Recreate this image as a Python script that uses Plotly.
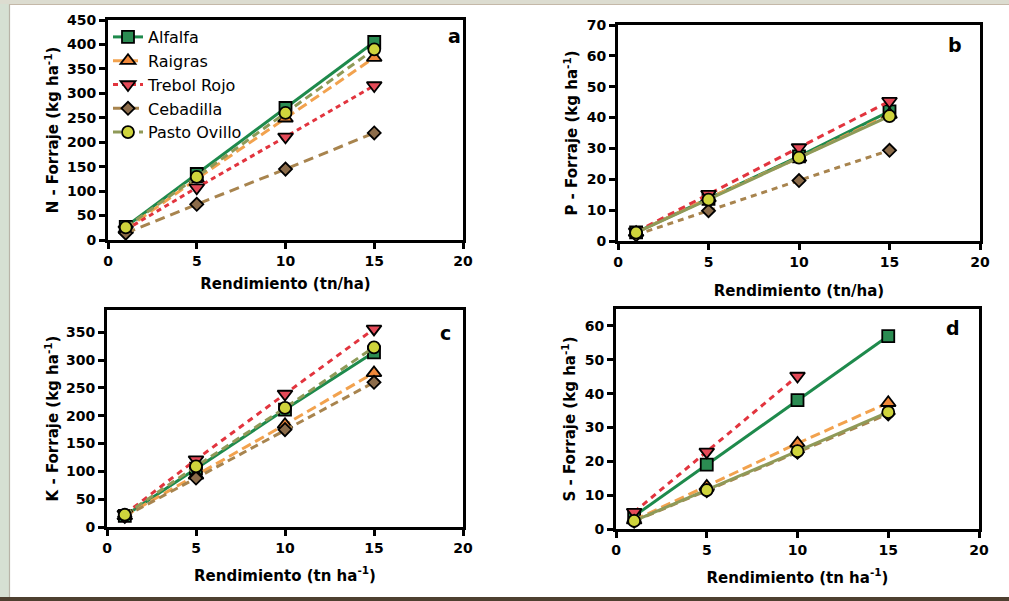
import plotly.graph_objects as go

# ---------------- data ----------------
x_vals = [1, 5, 10, 15]
series_names = ["Alfalfa", "Raigras", "Trebol Rojo", "Cebadilla", "Pasto Ovillo"]

N_alfalfa = [27, 135, 270, 405]
N_raigras = [22, 125, 249, 373]
N_trebol = [21, 107, 211, 316]
N_cebadilla = [14, 73, 145, 219]
N_pasto = [26, 129, 260, 390]

P_alfalfa = [2.8, 13.7, 27.4, 42.0]
P_raigras = [2.7, 13.9, 27.0, 41.0]
P_trebol = [3.0, 15.2, 30.3, 45.3]
P_cebadilla = [2.0, 9.8, 19.6, 29.4]
P_pasto = [2.7, 13.4, 27.0, 40.5]

K_alfalfa = [20, 105, 211, 314]
K_raigras = [20, 93, 184, 277]
K_trebol = [23, 121, 239, 356]
K_cebadilla = [19, 88, 175, 260]
K_pasto = [22, 109, 214, 323]

S_alfalfa = [3.8, 19.0, 38.1, 57.0]
S_raigras = [2.6, 12.6, 25.3, 37.3]
S_trebol = [5.0, 22.8, 45.2, None]
S_cebadilla = [2.3, 11.3, 22.7, 34.0]
S_pasto = [2.4, 11.5, 23.0, 34.5]

x_ticks = [0, 5, 10, 15, 20]
panel_letters = ["a", "b", "c", "d"]

# ---------------- styles ----------------
W, H = 1009, 601


def px_x(v):
    return v / W


def px_y(v):
    return 1 - v / H


line_colors = ["#1e8a4c", "#f2a24e", "#e2343e", "#a8844e", "#8f9a58"]
marker_fills = ["#2b8c52", "#f0883a", "#e44a58", "#8c6c4a", "#cfd43c"]
symbols = ["square", "triangle-up", "triangle-down", "diamond", "circle"]
msizes = [12, 13, 13, 10, 12]

panels = [
    dict(data=[N_alfalfa, N_raigras, N_trebol, N_cebadilla, N_pasto],
         dashes=["solid", "10px,5px", "5px,4px", "10px,6px", "8px,5px"],
         ytitle="N - Forraje (kg ha<sup>-1</sup>)", xtitle="Rendimiento (tn/ha)",
         yrange=[0, 450], ydtick=50, xstand=11, ystand=5,
         xpx=(108, 463), ypx=(20, 240), letterpx=(454, 36)),
    dict(data=[P_alfalfa, P_raigras, P_trebol, P_cebadilla, P_pasto],
         dashes=["solid", "10px,5px", "7px,5px", "6px,5px", "solid"],
         ytitle="P - Forraje (kg ha<sup>-1</sup>)", xtitle="Rendimiento (tn/ha)",
         yrange=[0, 70], ydtick=10, xstand=17, ystand=6,
         xpx=(618, 980), ypx=(25, 241), letterpx=(955, 45)),
    dict(data=[K_alfalfa, K_raigras, K_trebol, K_cebadilla, K_pasto],
         dashes=["solid", "10px,5px", "6px,5px", "8px,5px", "8px,5px"],
         ytitle="K - Forraje (kg ha<sup>-1</sup>)", xtitle="Rendimiento (tn ha<sup>-1</sup>)",
         yrange=[0, 390], ydtick=50, xstand=16, ystand=4,
         xpx=(107, 463), ypx=(310, 527), letterpx=(445, 333)),
    dict(data=[S_alfalfa, S_raigras, S_trebol, S_cebadilla, S_pasto],
         dashes=["solid", "10px,5px", "6px,5px", "8px,5px", "solid"],
         ytitle="S - Forraje (kg ha<sup>-1</sup>)", xtitle="Rendimiento (tn ha<sup>-1</sup>)",
         yrange=[0, 65], ydtick=10, xstand=16, ystand=6,
         xpx=(616, 979), ypx=(309, 529), letterpx=(953, 328)),
]

FONT = "DejaVu Sans, Arial, sans-serif"

fig = go.Figure()
layout = {}
for i, p in enumerate(panels):
    n = i + 1
    xa = "x" if n == 1 else f"x{n}"
    ya = "y" if n == 1 else f"y{n}"
    for j, name in enumerate(series_names):
        fig.add_trace(go.Scatter(
            x=x_vals, y=p["data"][j], name=name, mode="lines+markers",
            xaxis=xa, yaxis=ya, showlegend=(n == 1), connectgaps=False,
            line=dict(color=line_colors[j], width=3, dash=p["dashes"][j]),
            marker=dict(symbol=symbols[j], size=msizes[j], color=marker_fills[j],
                        line=dict(color="black", width=1.8)),
            cliponaxis=False,
        ))
    axis_common = dict(showline=True, linecolor="black", linewidth=3, mirror=True,
                       ticks="outside", ticklen=6, tickwidth=2.5, tickcolor="black",
                       showgrid=False, zeroline=False, automargin=False,
                       tickfont=dict(family=FONT, size=14, color="black", weight="bold"))
    layout["xaxis" if n == 1 else f"xaxis{n}"] = dict(
        axis_common, domain=[px_x(p["xpx"][0]), px_x(p["xpx"][1])], range=[0, 20],
        tickvals=x_ticks, anchor=ya,
        title=dict(text=p["xtitle"], font=dict(family=FONT, size=15, color="black", weight="bold"),
                   standoff=p["xstand"]))
    layout["yaxis" if n == 1 else f"yaxis{n}"] = dict(
        axis_common, domain=[px_y(p["ypx"][1]), px_y(p["ypx"][0])], range=p["yrange"],
        dtick=p["ydtick"], tick0=0, anchor=xa,
        title=dict(text=p["ytitle"], font=dict(family=FONT, size=15, color="black", weight="bold"),
                   standoff=p["ystand"]))
    fig.add_annotation(text=panel_letters[i], xref="paper", yref="paper",
                       x=px_x(p["letterpx"][0]), y=px_y(p["letterpx"][1]),
                       xanchor="center", yanchor="middle", showarrow=False,
                       font=dict(family=FONT, size=19, color="black", weight="bold"))

fig.update_layout(**layout)
fig.update_layout(
    width=W, height=H,
    margin=dict(l=0, r=0, t=0, b=0, autoexpand=False),
    paper_bgcolor="white",
    plot_bgcolor="rgba(0,0,0,0)",
    showlegend=True,
    legend=dict(x=px_x(108), y=px_y(20), xanchor="left", yanchor="top",
                bgcolor="rgba(0,0,0,0)", borderwidth=0, tracegroupgap=0,
                font=dict(family=FONT, size=16, color="black"), itemwidth=30),
    shapes=[
        # left greenish band
        dict(type="rect", xref="paper", yref="paper", x0=0, x1=px_x(9), y0=0, y1=1,
             fillcolor="#d6e0d3", line=dict(width=0), layer="below"),
        # top band
        dict(type="rect", xref="paper", yref="paper", x0=0, x1=1, y0=px_y(4), y1=1,
             fillcolor="#dcdcd0", line=dict(width=0), layer="below"),
        # inner frame
        dict(type="line", xref="paper", yref="paper", x0=px_x(9.5), x1=px_x(9.5),
             y0=px_y(597), y1=px_y(4), line=dict(color="#b8b4a8", width=1.2)),
        dict(type="line", xref="paper", yref="paper", x0=px_x(9), x1=1,
             y0=px_y(4.5), y1=px_y(4.5), line=dict(color="#c4b8a8", width=1.2)),
        # bottom dark line
        dict(type="rect", xref="paper", yref="paper", x0=0, x1=1,
             y0=0, y1=px_y(597), fillcolor="#4e4030", line=dict(width=0)),
    ],
)

fig.write_html("out.html", config={"displayModeBar": False},
               post_script="document.body.style.margin='0';document.body.style.overflow='hidden';")
